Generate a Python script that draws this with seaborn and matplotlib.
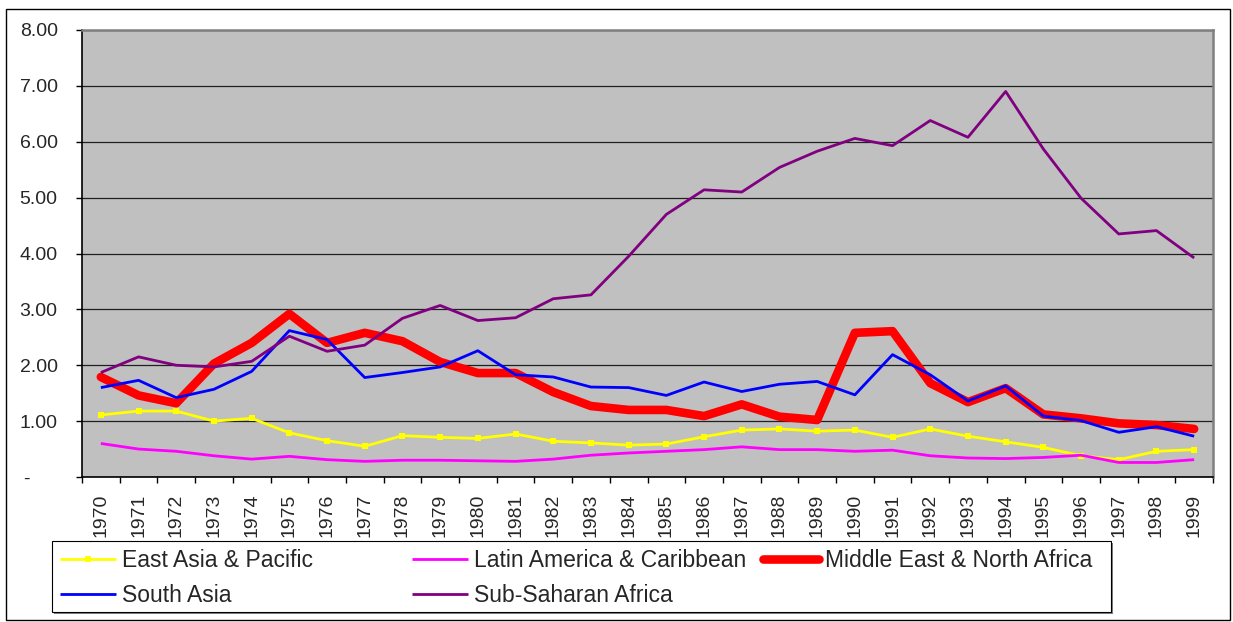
import numpy as np
import pandas as pd
import seaborn as sns
import matplotlib.pyplot as plt
from matplotlib.lines import Line2D
from matplotlib.patches import Rectangle
from matplotlib.ticker import FuncFormatter

years = [str(y) for y in range(1970, 2000)]

east_asia = [1.11, 1.18, 1.18, 1.00, 1.05, 0.79, 0.65, 0.55, 0.74, 0.71,
             0.69, 0.77, 0.64, 0.61, 0.57, 0.59, 0.72, 0.84, 0.86, 0.82,
             0.84, 0.71, 0.86, 0.73, 0.63, 0.53, 0.38, 0.31, 0.46, 0.49]
latin_america = [0.60, 0.50, 0.46, 0.38, 0.32, 0.37, 0.31, 0.28, 0.30, 0.30,
                 0.29, 0.28, 0.32, 0.39, 0.43, 0.46, 0.49, 0.54, 0.49, 0.49,
                 0.46, 0.48, 0.38, 0.34, 0.33, 0.35, 0.39, 0.26, 0.26, 0.31]
middle_east = [1.79, 1.46, 1.32, 2.03, 2.40, 2.92, 2.40, 2.58, 2.43, 2.06,
               1.86, 1.86, 1.52, 1.27, 1.20, 1.20, 1.09, 1.30, 1.08, 1.02,
               2.58, 2.61, 1.68, 1.34, 1.59, 1.12, 1.05, 0.96, 0.93, 0.86]
south_asia = [1.60, 1.73, 1.42, 1.57, 1.89, 2.62, 2.46, 1.78, 1.87, 1.97,
              2.26, 1.83, 1.79, 1.61, 1.60, 1.46, 1.70, 1.53, 1.66, 1.71,
              1.47, 2.19, 1.83, 1.36, 1.63, 1.09, 1.01, 0.80, 0.90, 0.73]
sub_saharan = [1.87, 2.15, 2.00, 1.97, 2.07, 2.52, 2.25, 2.36, 2.84, 3.07,
               2.80, 2.85, 3.19, 3.26, 3.95, 4.70, 5.14, 5.10, 5.54, 5.83,
               6.06, 5.93, 6.38, 6.08, 6.90, 5.87, 4.99, 4.35, 4.41, 3.92]

series = [
    ("East Asia & Pacific", east_asia, "#FFFF00", 2.0, "s"),
    ("Latin America & Caribbean", latin_america, "#FF00FF", 2.0, None),
    ("Middle East & North Africa", middle_east, "#FF0000", 6.2, None),
    ("South Asia", south_asia, "#0000FF", 2.0, None),
    ("Sub-Saharan Africa", sub_saharan, "#800080", 2.0, None),
]

sns.set_style("white")
plt.rcParams["font.family"] = ["Liberation Sans", "DejaVu Sans"]

fig = plt.figure(figsize=(12.33, 6.22), dpi=100)
ax = fig.add_axes([82 / 1233, 1 - 477 / 622, (1213 - 82) / 1233, (477 - 30) / 622])
ax.set_facecolor("#C0C0C0")

pos = np.arange(len(years))
for name, vals, color, lw, marker in series:
    df = pd.DataFrame({"pos": pos, "value": vals})
    kw = {}
    if marker:
        kw = dict(marker=marker, markersize=4.5, markeredgewidth=0, markerfacecolor=color)
    sns.lineplot(data=df, x="pos", y="value", ax=ax, color=color, linewidth=lw,
                 solid_capstyle="round" if lw > 3 else "butt", **kw)

# axes look (Excel style)
ax.set_xlim(-0.5, len(years) - 0.5)
ax.set_ylim(0, 8)
ax.set_yticks(np.arange(0, 9, 1))
ax.yaxis.set_major_formatter(FuncFormatter(lambda v, p: "-     " if v == 0 else f"{v:.2f}"))
ax.grid(axis="y", color="#202020", linewidth=0.9)
ax.set_axisbelow(True)
ax.set_xlabel("")
ax.set_ylabel("")

ax.set_xticks(np.arange(-0.5, len(years)), labels=[""] * (len(years) + 1))
ax.set_xticks(pos, labels=years, minor=True)
ax.tick_params(axis="x", which="major", direction="out", length=4, width=1, color="black", bottom=True)
ax.tick_params(axis="x", which="minor", length=0, labelsize=14, rotation=90, pad=12)
ax.tick_params(axis="y", direction="out", length=4.5, width=1, color="black", labelsize=14, pad=13, left=True)

for side in ["left", "bottom"]:
    ax.spines[side].set_color("black")
    ax.spines[side].set_linewidth(1.2)
for side in ["top", "right"]:
    ax.spines[side].set_color("#808080")
    ax.spines[side].set_linewidth(1.8)

# outer chart frame
fig.patches.append(Rectangle((6 / 1233, 1 - 620 / 622), (1230 - 6) / 1233, (620 - 9) / 622,
                             transform=fig.transFigure, fill=False, edgecolor="black", linewidth=1))

# legend box with shadow
fig.patches.append(Rectangle((54 / 1233, 1 - 614 / 622), (1113 - 54) / 1233, (614 - 543) / 622,
                             transform=fig.transFigure, facecolor="#808080", edgecolor="none"))
fig.patches.append(Rectangle((52 / 1233, 1 - 612 / 622), (1111 - 52) / 1233, (612 - 541) / 622,
                             transform=fig.transFigure, facecolor="white", edgecolor="black", linewidth=0.8))

handles = {}
for name, vals, color, lw, marker in series:
    handles[name] = Line2D([], [], color=color, linewidth=lw, marker=marker, markersize=4.5,
                           markeredgewidth=0, solid_capstyle="round" if lw > 3 else "butt")

columns = [
    (60, ["East Asia & Pacific", "South Asia"]),
    (412, ["Latin America & Caribbean", "Sub-Saharan Africa"]),
    (763, ["Middle East & North Africa"]),
]
for x0, names in columns:
    fig.legend([handles[n] for n in names], names, loc="upper left",
               bbox_to_anchor=(x0 / 1233, 1 - 549 / 622), frameon=False,
               fontsize=16.5, handlelength=2.45, handletextpad=0.26,
               borderpad=0, borderaxespad=0, labelspacing=0.52)

fig.savefig("out.png", dpi=100)
